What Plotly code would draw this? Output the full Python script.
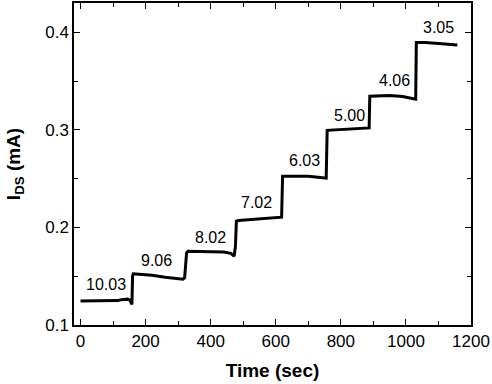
import plotly.graph_objects as go

# Measured trace: time (sec) and drain-source current (mA)
time_sec = [0, 50, 100, 115, 125, 145, 152, 156, 158,
            160, 162, 180, 220, 260, 300, 315, 320,
            323, 326, 330, 360, 400, 440, 462, 472,
            476, 479, 485, 520, 560, 600, 618,
            621, 640, 680, 700, 730, 755,
            758, 780, 820, 860, 887,
            889, 910, 950, 990, 1020, 1030,
            1032, 1060, 1100, 1140, 1158]
ids_ma = [0.1245, 0.1245, 0.1245, 0.125, 0.126, 0.1265, 0.1255, 0.1215, 0.121,
          0.150, 0.1525, 0.152, 0.151, 0.149, 0.147, 0.147, 0.1485,
          0.160, 0.174, 0.1755, 0.1755, 0.1755, 0.1748, 0.1735, 0.1705,
          0.180, 0.2065, 0.207, 0.208, 0.2088, 0.2098, 0.2105,
          0.2525, 0.2525, 0.252, 0.2525, 0.2515, 0.2505,
          0.2995, 0.2998, 0.3005, 0.3013, 0.302,
          0.3345, 0.335, 0.3352, 0.3342, 0.3325, 0.3315,
          0.3895, 0.3895, 0.3885, 0.3875, 0.387]

# Step labels
label_text = ["10.03", "9.06", "8.02", "7.02", "6.03", "5.00", "4.06", "3.05"]
label_t = [78, 232, 400, 540, 688, 827, 964, 1100]
label_y = [0.142, 0.1665, 0.190, 0.226, 0.269, 0.315, 0.351, 0.4047]

x_ticks = [0, 200, 400, 600, 800, 1000, 1200]
y_ticks = [0.1, 0.2, 0.3, 0.4]

FONT = "Arial, Liberation Sans, sans-serif"

fig = go.Figure()
fig.add_trace(go.Scatter(x=time_sec, y=ids_ma, mode="lines",
                         line=dict(color="black", width=3),
                         showlegend=False))

for txt, tx, ty in zip(label_text, label_t, label_y):
    fig.add_annotation(x=tx, y=ty, text=txt, showarrow=False,
                       font=dict(family=FONT, size=16, color="black"))

axis_common = dict(showline=True, linecolor="black", linewidth=1.5,
                   mirror="allticks", ticks="inside", ticklen=6, tickwidth=1.2,
                   tickcolor="black", showgrid=False, zeroline=False,
                   automargin=False,
                   tickfont=dict(family=FONT, size=17, color="black"))

fig.update_xaxes(range=[-20, 1200], tickvals=x_ticks,
                 minor=dict(dtick=100, tick0=0, ticks="inside", ticklen=4,
                            tickcolor="black", tickwidth=1.2, showgrid=False),
                 title=dict(text="<b>Time (sec)</b>", standoff=14,
                            font=dict(family=FONT, size=19, color="black")),
                 **axis_common)
fig.update_yaxes(range=[0.1, 0.43], tickvals=y_ticks,
                 ticktext=["0.1", "0.2", "0.3", "0.4"],
                 minor=dict(dtick=0.05, tick0=0.1, ticks="inside", ticklen=4,
                            tickcolor="black", tickwidth=1.2, showgrid=False),
                 title=dict(text="<b>I<sub>DS</sub> (mA)</b>", standoff=20,
                            font=dict(family=FONT, size=19, color="black")),
                 **axis_common)

fig.update_layout(width=492, height=384,
                  margin=dict(l=74, r=21, t=3, b=59, autoexpand=False),
                  plot_bgcolor="white", paper_bgcolor="white")

fig.write_html("out.html", config={"displayModeBar": False},
               post_script="document.body.style.margin='0';")
